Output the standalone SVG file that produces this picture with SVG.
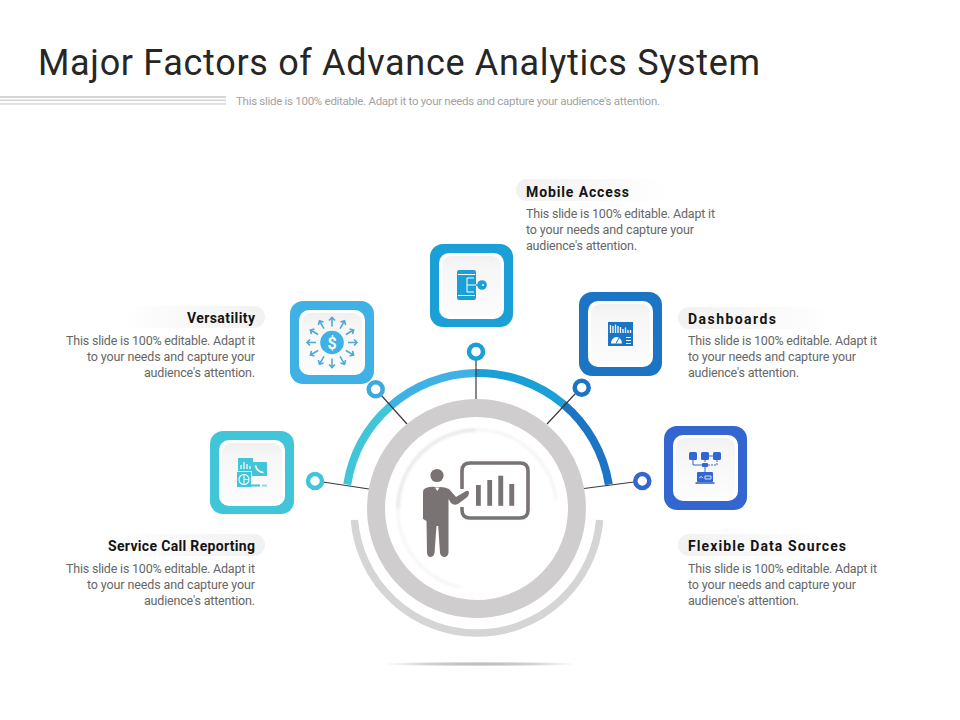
<svg xmlns="http://www.w3.org/2000/svg" xmlns:xlink="http://www.w3.org/1999/xlink" width="960" height="720" viewBox="0 0 960 720">
<style>
text{font-family:Roboto,"Liberation Sans",sans-serif}
.title{font-size:36px;fill:#262626;font-weight:400}
.sub{font-size:11.5px;fill:#a2a2a2}
.lab{font-size:14px;font-weight:700;fill:#141414}
.body{font-size:12.5px;fill:#666}
.end{text-anchor:end}
.inner{fill:#fff}
.bevel{fill:url(#bev)}
.ring{fill:#fff;stroke-width:4.5}
.conn line{stroke:#3a3a3a;stroke-width:1.2}
.arc{fill:none;stroke-width:8}
</style>
<defs>
<linearGradient id="bev" x1="0" y1="0" x2="0" y2="1"><stop offset="0" stop-color="#f0f0f0"/><stop offset=".2" stop-color="#f6f6f6"/><stop offset="1" stop-color="#fcfcfc"/></linearGradient>
<linearGradient id="pillR" x1="0" x2="1" y1="0" y2="0"><stop offset="0" stop-color="#f1f1f1"/><stop offset=".6" stop-color="#f9f9f9"/><stop offset="1" stop-color="#fff"/></linearGradient>
<linearGradient id="pillL" x1="1" x2="0" y1="0" y2="0"><stop offset="0" stop-color="#f1f1f1"/><stop offset=".6" stop-color="#f9f9f9"/><stop offset="1" stop-color="#fff"/></linearGradient>
<radialGradient id="shadow"><stop offset="0" stop-color="#b4b4b4"/><stop offset=".6" stop-color="#d4d4d4"/><stop offset="1" stop-color="#fff"/></radialGradient>
<filter id="b2" x="-20%" y="-20%" width="140%" height="140%"><feGaussianBlur stdDeviation="1.4"/></filter>
<g id="arr"><path d="M0,-16V-25M-3,-22L0,-25L3,-22" fill="none" stroke="#4fa9d8" stroke-width="1.6"/></g>
</defs>
<rect width="960" height="720" fill="#fff"/>

<g id="header">
<text class="title" x="38" y="75" textLength="722">Major Factors of Advance Analytics System</text>
<rect x="0" y="96" width="226" height="2" fill="#d6d6d6"/>
<rect x="0" y="99.5" width="226" height="1.6" fill="#d6d6d6"/>
<rect x="0" y="103.2" width="226" height="1.5" fill="#d6d6d6"/>
<text class="sub" x="236" y="105" textLength="424">This slide is 100% editable. Adapt it to your needs and capture your audience's attention.</text>
</g>

<g id="arcs">
<path class="arc" stroke="#41c5d8" d="M347.2,484.5A132.5,132.5 0 0 1 390,406.5"/>
<path class="arc" stroke="#3fb1e5" d="M390,406.5A132.5,132.5 0 0 1 476,373"/>
<path class="arc" stroke="#1a9fd6" d="M476,373A132.5,132.5 0 0 1 563,403.9"/>
<path class="arc" stroke="#1b75c4" d="M563,403.9A132.5,132.5 0 0 1 608.8,484.5"/>
<path d="M354.400,520A123,123 0 0 0 599.600,520" fill="none" stroke="#d6d5d6" stroke-width="7.5"/>
</g>

<g id="connectors" class="conn">
<line x1="476" y1="359" x2="476" y2="399"/>
<line x1="381" y1="395" x2="407" y2="424"/>
<line x1="575" y1="394" x2="547" y2="424"/>
<line x1="323" y1="482" x2="369" y2="489"/>
<line x1="634" y1="482" x2="584" y2="488.5"/>
</g>

<g id="hub">
<ellipse cx="480" cy="664" rx="97" ry="2.4" fill="url(#shadow)"/>
<circle cx="476.5" cy="508.5" r="100.5" fill="#fff" stroke="#cfcdce" stroke-width="18"/>
<path d="M398,509A79,79 0 0 1 476,430" fill="none" stroke="#dedede" stroke-width="2.4" filter="url(#b2)"/>
<path d="M476,430A79,79 0 0 1 556,500" fill="none" stroke="#efefef" stroke-width="2" filter="url(#b2)"/>
<path d="M398,509A79,79 0 0 0 460,587" fill="none" stroke="#f0f0f0" stroke-width="2" filter="url(#b2)"/>
<g fill="#7a7374">
<circle cx="437" cy="475.500" r="6.600"/>
<path d="M426,488Q431,486 435,487L440,487Q445,487 449,489L456,497L466,491Q469,490 469,493Q469,496 466,498L458,504Q454,506 451,503L448.500,499L448.500,553Q447.500,557 444.500,557Q441,557 440,553L438.200,526L436.500,526L434.500,553Q433.500,557 430.500,557Q427.500,557 427,553L426.500,521L423,519L423,492Q423,489 426,488Z"/>
<path d="M435,487.500L437.300,491L439.500,487.500Z" fill="#fff"/>
<rect x="476" y="485" width="4.800" height="20.800"/>
<rect x="487.300" y="480" width="4.800" height="25.800"/>
<rect x="498.300" y="475.700" width="4.900" height="30.100"/>
<rect x="509.300" y="484" width="4.900" height="21.800"/>
</g>
<path d="M462,489V471Q462,463 470,463H520Q528,463 528,471V510Q528,518 520,518H470Q462,518 462,510V507" fill="none" stroke="#7a7374" stroke-width="3.600"/>
</g>

<g id="node-mobile">
<rect x="430" y="244" width="83" height="83" rx="13" fill="#1a9fd6"/>
<rect class="inner" x="439" y="253" width="65" height="66" rx="10"/>
<rect class="bevel" x="442" y="256" width="59" height="60" rx="9"/>
<rect x="457" y="270" width="19" height="30" rx="2" fill="#1a9fd6"/>
<path d="M458,274.500H475M458,295.500H475M467,278V292M467,285H476M467,278H474M467,292H474" stroke="#fff" stroke-width="1" fill="none"/>
<path d="M476,285H480" stroke="#1a9fd6" stroke-width="1.500"/>
<circle cx="482" cy="285" r="4.800" fill="#1a9fd6"/>
<circle cx="483" cy="285" r="1" fill="#fff"/>
<circle cx="476" cy="351.700" r="7" stroke="#1a9fd6" class="ring"/>
<rect x="516" y="179" width="150" height="22" rx="11" fill="url(#pillR)"/>
<text class="lab" x="526" y="197" textLength="103">Mobile Access</text>
<text class="body" x="526" y="218" textLength="189">This slide is 100% editable. Adapt it</text>
<text class="body" x="526" y="234" textLength="168">to your needs and capture your</text>
<text class="body" x="526" y="250" textLength="111">audience's attention.</text>
</g>

<g id="node-versatility">
<rect x="290" y="301" width="84" height="83" rx="13" fill="#3fb1e5"/>
<rect class="inner" x="299" y="310" width="66" height="65" rx="10"/>
<rect class="bevel" x="302" y="313" width="60" height="59" rx="9"/>
<g transform="translate(332,342.500)">
<use xlink:href="#arr" href="#arr"/>
<use xlink:href="#arr" href="#arr" transform="rotate(30)"/>
<use xlink:href="#arr" href="#arr" transform="rotate(60)"/>
<use xlink:href="#arr" href="#arr" transform="rotate(90)"/>
<use xlink:href="#arr" href="#arr" transform="rotate(120)"/>
<use xlink:href="#arr" href="#arr" transform="rotate(150)"/>
<use xlink:href="#arr" href="#arr" transform="rotate(180)"/>
<use xlink:href="#arr" href="#arr" transform="rotate(210)"/>
<use xlink:href="#arr" href="#arr" transform="rotate(240)"/>
<use xlink:href="#arr" href="#arr" transform="rotate(270)"/>
<use xlink:href="#arr" href="#arr" transform="rotate(300)"/>
<use xlink:href="#arr" href="#arr" transform="rotate(330)"/>
<circle r="11.800" fill="#3fb1e5"/>
<text y="6" text-anchor="middle" font-size="16" font-weight="700" fill="#fff">$</text>
</g>
<circle cx="375.700" cy="389.300" r="7" stroke="#3fa8dc" class="ring"/>
<rect x="125" y="306" width="140" height="22" rx="11" fill="url(#pillL)"/>
<text class="lab end" x="255" y="323" textLength="68">Versatility</text>
<text class="body end" x="255" y="345" textLength="189">This slide is 100% editable. Adapt it</text>
<text class="body end" x="255" y="361" textLength="168">to your needs and capture your</text>
<text class="body end" x="255" y="377" textLength="111">audience's attention.</text>
</g>

<g id="node-dashboards">
<rect x="579" y="292" width="83" height="84" rx="13" fill="#1b75c4"/>
<rect class="inner" x="588" y="301" width="65" height="66" rx="10"/>
<rect class="bevel" x="591" y="304" width="59" height="60" rx="9"/>
<rect x="608" y="322" width="25" height="24" fill="#1b75c4"/>
<path d="M610.500,333V325M613,333V326M615.500,333V324.500M618,333V326M620.500,333V327M623,333V329M625.500,333V327.500M628,333V330M630.500,333V330" stroke="#fff" stroke-width="1.300" fill="none"/>
<path d="M611,343.500A5.500,6.500 0 0 1 622,343.500Z" fill="#fff"/>
<path d="M616,343.500L619,338" stroke="#1b75c4" stroke-width="1"/>
<path d="M626,337.500H631M626,340.500H631M626,343.500H631" stroke="#fff" stroke-width="1.200"/>
<circle cx="581.700" cy="387.700" r="7" stroke="#1b75c4" class="ring"/>
<rect x="678" y="307" width="150" height="22" rx="11" fill="url(#pillR)"/>
<text class="lab" x="688" y="324" textLength="88">Dashboards</text>
<text class="body" x="688" y="345" textLength="189">This slide is 100% editable. Adapt it</text>
<text class="body" x="688" y="361" textLength="168">to your needs and capture your</text>
<text class="body" x="688" y="377" textLength="111">audience's attention.</text>
</g>

<g id="node-service">
<rect x="210" y="431" width="84" height="83" rx="13" fill="#41c5d8"/>
<rect class="inner" x="219" y="440" width="66" height="66" rx="10"/>
<rect class="bevel" x="222" y="443" width="60" height="60" rx="9"/>
<rect x="238" y="458" width="15" height="13" fill="#41c5d8"/>
<path d="M241,469V465M244,469V462M247,469V464M250,469V466" stroke="#fff" stroke-width="1.200"/>
<rect x="252" y="462" width="15" height="14" rx="1" fill="#41c5d8"/>
<path d="M255.500,465.500Q257,472 263.500,472.500" stroke="#fff" stroke-width="1.500" fill="none"/>
<rect x="237" y="472" width="14" height="15" fill="#41c5d8"/>
<circle cx="244" cy="479.500" r="5" fill="none" stroke="#fff" stroke-width="1.100"/>
<path d="M244,474.500V484.500M244,479.500H249" stroke="#fff" stroke-width="1"/>
<path d="M251,485.500H260" stroke="#41c5d8" stroke-width="2"/>
<path d="M262,485.500H267" stroke="#8fdbe6" stroke-width="2"/>
<circle cx="315" cy="481" r="7" stroke="#41c5d8" class="ring"/>
<rect x="115" y="534" width="150" height="22" rx="11" fill="url(#pillL)"/>
<text class="lab end" x="255" y="551" textLength="147">Service Call Reporting</text>
<text class="body end" x="255" y="573" textLength="189">This slide is 100% editable. Adapt it</text>
<text class="body end" x="255" y="589" textLength="168">to your needs and capture your</text>
<text class="body end" x="255" y="605" textLength="111">audience's attention.</text>
</g>

<g id="node-flexible">
<rect x="664" y="426" width="83" height="84" rx="13" fill="#3366d0"/>
<rect class="inner" x="673" y="435" width="65" height="66" rx="10"/>
<rect class="bevel" x="676" y="438" width="59" height="60" rx="9"/>
<rect x="689" y="452" width="8" height="8" rx="1.500" fill="#3366d0"/>
<rect x="701" y="452" width="8" height="8" rx="1.500" fill="#3366d0"/>
<rect x="713" y="452" width="8" height="8" rx="1.500" fill="#3366d0"/>
<path d="M693,460V465H702M705,460V462M709,456H713" stroke="#3366d0" stroke-width="1" fill="none"/>
<path d="M708,465H717V460" stroke="#3366d0" stroke-width="1" stroke-dasharray="2 1" fill="none"/>
<rect x="702" y="463" width="6" height="4" rx="1" fill="#3366d0"/>
<path d="M705,467V472" stroke="#3366d0" stroke-width="1"/>
<rect x="697" y="472" width="16" height="10" rx="1" fill="#3366d0"/>
<path d="M695.500,483H714.500" stroke="#3366d0" stroke-width="1.600"/>
<path d="M699,478Q701,475 703,478M705,476H711V479H705Z" stroke="#fff" stroke-width=".8" fill="none"/>
<circle cx="642.300" cy="481" r="7" stroke="#3366d0" class="ring"/>
<rect x="678" y="534" width="150" height="22" rx="11" fill="url(#pillR)"/>
<text class="lab" x="688" y="551" textLength="158">Flexible Data Sources</text>
<text class="body" x="688" y="573" textLength="189">This slide is 100% editable. Adapt it</text>
<text class="body" x="688" y="589" textLength="168">to your needs and capture your</text>
<text class="body" x="688" y="605" textLength="111">audience's attention.</text>
</g>
</svg>
